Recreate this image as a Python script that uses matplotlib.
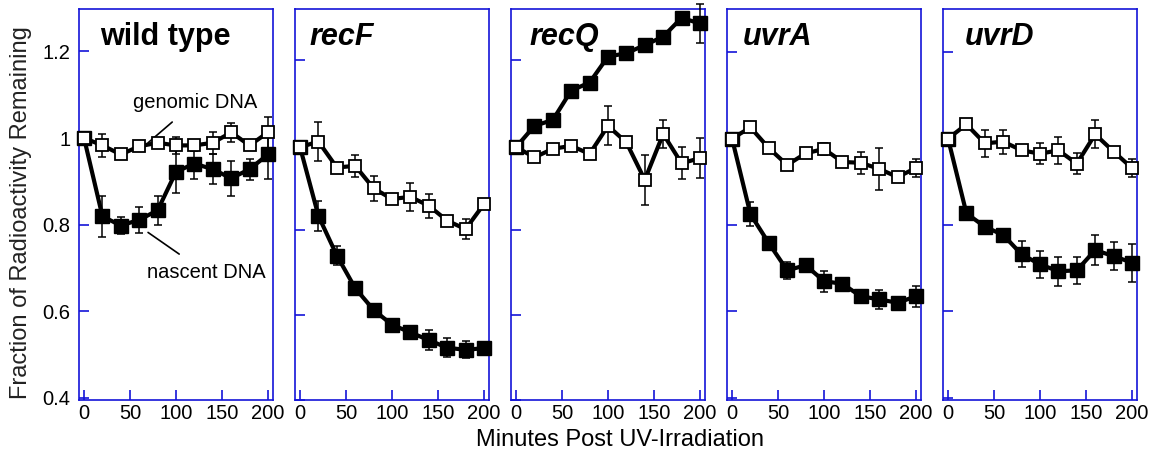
import matplotlib
matplotlib.use("Agg")
import matplotlib.pyplot as plt
import numpy as np

plt.rcParams['font.family'] = ['Liberation Sans', 'DejaVu Sans']

minutes = [0, 20, 40, 60, 80, 100, 120, 140, 160, 180, 200]
panel_titles = ["wild type", "recF", "recQ", "uvrA", "uvrD"]
title_italic = [False, True, True, True, True]

# genomic DNA (open squares)
genomic = [
    [1.00, 0.983, 0.962, 0.981, 0.989, 0.983, 0.983, 0.989, 1.013, 0.983, 1.013],
    [0.995, 1.008, 0.947, 0.951, 0.898, 0.873, 0.878, 0.857, 0.822, 0.802, 0.861],
    [0.995, 0.971, 0.991, 0.998, 0.979, 1.045, 1.006, 0.918, 1.026, 0.957, 0.969],
    [1.00, 1.026, 0.978, 0.939, 0.966, 0.976, 0.946, 0.944, 0.930, 0.911, 0.932],
    [1.00, 1.033, 0.989, 0.993, 0.973, 0.965, 0.973, 0.942, 1.010, 0.970, 0.932],
]
genomic_err = [
    [0.0, 0.027, 0.0, 0.010, 0.008, 0.020, 0.012, 0.026, 0.022, 0.010, 0.035],
    [0.0, 0.045, 0.0, 0.026, 0.030, 0.008, 0.033, 0.028, 0.010, 0.024, 0.012],
    [0.0, 0.010, 0.006, 0.0, 0.0, 0.046, 0.0, 0.058, 0.034, 0.038, 0.047],
    [0.0, 0.0, 0.008, 0.0, 0.0, 0.015, 0.010, 0.026, 0.048, 0.010, 0.020],
    [0.0, 0.0, 0.032, 0.028, 0.0, 0.024, 0.031, 0.025, 0.032, 0.0, 0.020],
]
# nascent DNA (filled squares)
nascent = [
    [1.00, 0.819, 0.798, 0.811, 0.833, 0.922, 0.941, 0.928, 0.907, 0.928, 0.962],
    [0.995, 0.833, 0.740, 0.663, 0.612, 0.577, 0.559, 0.541, 0.523, 0.518, 0.522],
    [0.995, 1.045, 1.059, 1.128, 1.147, 1.208, 1.216, 1.235, 1.255, 1.299, 1.286],
    [1.00, 0.825, 0.758, 0.695, 0.707, 0.670, 0.664, 0.635, 0.628, 0.620, 0.635],
    [1.00, 0.827, 0.796, 0.777, 0.732, 0.709, 0.693, 0.695, 0.742, 0.728, 0.713],
]
nascent_err = [
    [0.0, 0.048, 0.020, 0.030, 0.033, 0.050, 0.036, 0.035, 0.040, 0.024, 0.057],
    [0.0, 0.036, 0.022, 0.010, 0.008, 0.006, 0.006, 0.024, 0.022, 0.020, 0.008],
    [0.0, 0.0, 0.0, 0.0, 0.0, 0.0, 0.0, 0.0, 0.0, 0.0, 0.045],
    [0.0, 0.028, 0.010, 0.020, 0.008, 0.024, 0.008, 0.010, 0.022, 0.008, 0.024],
    [0.0, 0.0, 0.010, 0.012, 0.030, 0.032, 0.033, 0.031, 0.034, 0.032, 0.044],
]
y_top = [1.298, 1.32, 1.32, 1.30, 1.30]
y_bottom = [0.395, 0.40, 0.40, 0.395, 0.395]
ytick_vals = [0.4, 0.6, 0.8, 1.0, 1.2]
ytick_labels = ["0.4", "0.6", "0.8", "1", "1.2"]
xtick_vals = [0, 50, 100, 150, 200]

BLUE = '#1414d8'
fig = plt.figure(figsize=(11.6, 4.55), dpi=100)
lefts_px = [79, 295, 511, 727, 943]
title_x = [0.11, 0.075, 0.095, 0.08, 0.11]
for i in range(5):
    ax = fig.add_axes([lefts_px[i] / 1160, 55 / 455, 194 / 1160, 391 / 455])
    ax.set_xlim(-5.5, 205.5)
    ax.set_ylim(y_bottom[i], y_top[i])
    for s in ax.spines.values():
        s.set_color(BLUE)
        s.set_linewidth(1.2)
    ax.set_axisbelow(True)
    ax.tick_params(axis='both', direction='in', color=BLUE, length=7, width=1.2,
                   labelsize=14.5, labelcolor='black')
    ax.tick_params(axis='y', pad=6)
    ax.tick_params(axis='x', pad=3)
    ax.set_xticks(xtick_vals)
    ax.set_yticks(ytick_vals)
    if i == 0:
        ax.set_yticklabels(ytick_labels)
    else:
        ax.set_yticklabels([])

    ax.errorbar(minutes, nascent[i], yerr=nascent_err[i], fmt='none', ecolor='black',
                elinewidth=1.1, capsize=3, capthick=1.1, zorder=3, clip_on=False)
    ax.errorbar(minutes, genomic[i], yerr=genomic_err[i], fmt='none', ecolor='black',
                elinewidth=1.1, capsize=3, capthick=1.1, zorder=3, clip_on=False)
    ax.plot(minutes, nascent[i], color='black', lw=3, marker='s', ms=10.5,
            mfc='black', mec='black', mew=1, zorder=4, clip_on=False)
    ax.plot(minutes, genomic[i], color='black', lw=3, marker='s', ms=9.2,
            mfc='white', mec='black', mew=1.3, zorder=5, clip_on=False)

    ax.text(title_x[i], 0.908, panel_titles[i], transform=ax.transAxes,
            fontsize=22, fontweight='bold',
            fontstyle='italic' if title_italic[i] else 'normal',
            ha='left', va='baseline', zorder=6)

    if i == 0:
        ax.annotate("genomic DNA", xy=(69.6, 0.989), xytext=(120.6, 1.082),
                    fontsize=14.5, ha='center', va='center',
                    arrowprops=dict(arrowstyle='-', color='black', lw=1.2,
                                    shrinkA=8, shrinkB=0))
        ax.annotate("nascent DNA", xy=(69.6, 0.782), xytext=(132.6, 0.689),
                    fontsize=14.5, ha='center', va='center',
                    arrowprops=dict(arrowstyle='-', color='black', lw=1.2,
                                    shrinkA=8, shrinkB=0))

fig.text(620 / 1160, 15 / 455, "Minutes Post UV-Irradiation", fontsize=17,
         ha='center', va='center')
fig.text(21 / 1160, 1 - 213 / 455, "Fraction of Radioactivity Remaining", fontsize=17,
         ha='center', va='center', rotation=90, color='#222222')

fig.savefig("out.png", dpi=100)
